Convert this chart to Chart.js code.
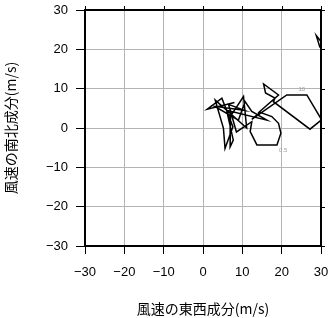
<!DOCTYPE html>
<html>
<head>
<meta charset="utf-8">
<script src="https://cdn.jsdelivr.net/npm/chart.js@4"></script>
<style>
  html, body { margin: 0; padding: 0; background: #fff; }
  #wrap { width: 331px; height: 318px; }
</style>
</head>
<body>
<div id="wrap"><canvas id="hodo" width="331" height="318"></canvas></div>
<script>
// Hodographe : composante est-ouest (u) et nord-sud (v) du vent
const windU = [8.0, 1.1, 4.8, 7.6, 5.6, 5.2, 3.1, 11.1, 10.3, 7.0, 6.9, 7.7, 6.0, 16.2,
  12.4, 10.7, 9.0, 3.0, 10.5, 6.5, 8.5, 12.4, 12.0, 13.7, 18.8, 19.8, 19.2, 17.5, 14.5, 12.4, 21.3, 26.4,
  30.2, 38.0, 28.8, 29.7, 40.0, 31.5, 27.2, 17.9, 18.3, 15.9, 15.4, 19.2, 14.0];
const windV = [6.5, 4.8, 7.6, 0.3, -5.2, -0.1, 7.1, 0.0, 8.0, 3.0, -4.8, -3.1, 4.5, 2.0,
  4.2, 6.7, 2.0, 5.5, 4.5, 6.0, -1.0, 1.6, -0.9, -4.3, -4.3, -1.3, 1.2, 2.9, 4.0, 2.2, 8.4, 8.4,
  2.0, 12.0, 23.5, 20.6, 14.0, 3.2, -0.3, 6.7, 7.6, 8.9, 11.2, 8.4, 3.8];

// Etiquettes d'altitude le long de la courbe
const heightLabels = ["10", "0.5"];
const heightU = [25.1, 20.4];
const heightV = [9.9, -5.6];

const tickValues = [-30, -20, -10, 0, 10, 20, 30];

const points = windU.map((u, i) => ({ x: u, y: windV[i] }));

const fontTicks = { family: "'Liberation Sans', Arial, sans-serif", size: 13 };
const fontTitle = { family: "'Noto Sans CJK JP', sans-serif", size: 14 };

function minusSign(v) {
  return String(v).replace("-", "\u2212");
}

// Pas de marge automatique pour les etiquettes qui debordent
function noOverflow(s) {
  s.paddingLeft = 0;
  s.paddingRight = 0;
  s.paddingTop = 0;
  s.paddingBottom = 0;
}

// Etiquettes d'altitude + cadre haut/droite
const extrasPlugin = {
  id: "extras",
  afterDatasetsDraw(chart) {
    const ctx = chart.ctx;
    const xs = chart.scales.x;
    const ys = chart.scales.y;
    const a = chart.chartArea;
    ctx.save();
    ctx.font = "6px 'Liberation Sans', Arial, sans-serif";
    ctx.fillStyle = "#999";
    ctx.textAlign = "center";
    ctx.textBaseline = "middle";
    heightLabels.forEach((t, i) => {
      ctx.fillText(t, xs.getPixelForValue(heightU[i]), ys.getPixelForValue(heightV[i]));
    });
    // cadre
    ctx.strokeStyle = "#000";
    ctx.lineWidth = 2;
    ctx.beginPath();
    ctx.moveTo(a.left - 1, a.top);
    ctx.lineTo(a.right, a.top);
    ctx.lineTo(a.right, a.bottom + 1);
    ctx.stroke();
    // petites graduations exterieures
    ctx.lineWidth = 1;
    ctx.beginPath();
    tickValues.forEach(v => {
      const px = Math.round(xs.getPixelForValue(v)) + 0.5;
      ctx.moveTo(px, a.top);
      ctx.lineTo(px, a.top - 4);
      const py = Math.round(ys.getPixelForValue(v)) + 0.5;
      ctx.moveTo(a.right, py);
      ctx.lineTo(a.right + 4, py);
    });
    ctx.stroke();
    ctx.restore();
  }
};

new Chart(document.getElementById("hodo"), {
  type: "scatter",
  data: {
    datasets: [{
      data: points,
      showLine: true,
      borderColor: "#000",
      borderWidth: 1.5,
      pointRadius: 0,
      tension: 0
    }]
  },
  options: {
    responsive: false,
    animation: false,
    layout: { padding: { top: 10, right: 10, left: 0, bottom: 0 } },
    plugins: { legend: { display: false }, tooltip: { enabled: false } },
    scales: {
      x: {
        type: "linear",
        min: -30, max: 30,
        afterBuildTicks(s) { s.ticks = tickValues.map(v => ({ value: v })); },
        afterFit(s) { s.height = 72; noOverflow(s); },
        grid: { color: "#b4b4b4", lineWidth: 1, tickLength: 8, tickColor: "#000" },
        border: { color: "#000", width: 2 },
        ticks: { color: "#000", font: fontTicks, padding: 11, callback: v => minusSign(v) },
        title: { display: true, text: "風速の東西成分(m/s)", color: "#000", font: fontTitle, padding: { top: 8, bottom: 1 } }
      },
      y: {
        type: "linear",
        min: -30, max: 30,
        afterBuildTicks(s) { s.ticks = tickValues.map(v => ({ value: v })); },
        afterFit(s) { s.width = 85; noOverflow(s); },
        grid: { color: "#b4b4b4", lineWidth: 1, tickLength: 9, tickColor: "#000" },
        border: { color: "#000", width: 2 },
        ticks: { color: "#000", font: fontTicks, padding: 8, callback: v => minusSign(v) },
        title: { display: true, text: "風速の南北成分(m/s)", color: "#000", font: fontTitle, padding: { top: 2, bottom: 2 } }
      }
    }
  },
  plugins: [extrasPlugin]
});
</script>
</body>
</html>
